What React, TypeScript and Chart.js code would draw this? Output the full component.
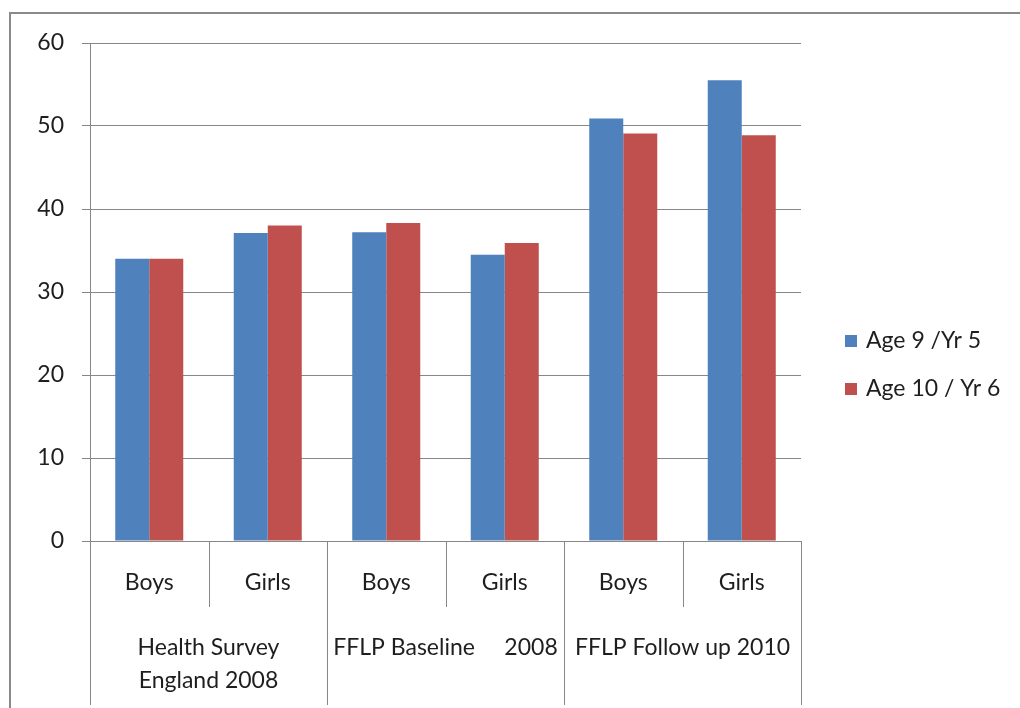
import React, { useEffect, useRef } from "react";
import { Chart, registerables } from "chart.js";

Chart.register(...registerables);

const categories = ["Boys", "Girls", "Boys", "Girls", "Boys", "Girls"];
const groupLabels = [["Health Survey", "England 2008"], ["FFLP Baseline     2008"], ["FFLP Follow up 2010"]];
const seriesNames = ["Age 9 /Yr 5", "Age 10 / Yr 6"];
const age9 = [34, 37.1, 37.2, 34.5, 50.9, 55.5];
const age10 = [34, 38, 38.3, 35.9, 49.1, 48.9];
const yMin = 0;
const yMax = 60;
const yStep = 10;

const FONT = "Lato, 'Open Sans', sans-serif";
const FS = 23;
const TEXT = "#1e1e1e";
const GRID = "#878787";

const extrasPlugin = {
  id: "extras",
  afterDraw(chart: any) {
    const ctx = chart.ctx;
    const x = chart.scales.x;
    const area = chart.chartArea;
    const n = categories.length;
    ctx.save();
    ctx.strokeStyle = GRID;
    ctx.lineWidth = 1;
    for (let i = 0; i <= n; i++) {
      const px = Math.round(x.getPixelForValue(i - 0.5)) + 0.5;
      const bottom = i % 2 === 0 ? 705 : area.bottom + 66;
      ctx.beginPath();
      ctx.moveTo(px, area.bottom);
      ctx.lineTo(px, bottom);
      ctx.stroke();
    }
    ctx.fillStyle = TEXT;
    ctx.font = `${FS}px ${FONT}`;
    ctx.textAlign = "center";
    ctx.textBaseline = "middle";
    groupLabels.forEach((lines, g) => {
      const cx = (x.getPixelForValue(2 * g) + x.getPixelForValue(2 * g + 1)) / 2;
      lines.forEach((t, k) => ctx.fillText(t, cx, 648 + k * 33));
    });
    // legend
    ctx.textAlign = "left";
    chart.data.datasets.forEach((ds: any, i: number) => {
      const cy = 341 + i * 48;
      ctx.fillStyle = ds.backgroundColor;
      ctx.fillRect(845, cy - 6, 12, 12);
      ctx.fillStyle = TEXT;
      ctx.fillText(ds.label, 866, cy);
    });
    ctx.restore();
  },
};

export default function App() {
  const ref = useRef<HTMLCanvasElement>(null);
  useEffect(() => {
    if (!ref.current) return;
    const chart = new Chart(ref.current, {
      type: "bar",
      data: {
        labels: categories,
        datasets: [
          { label: seriesNames[0], data: age9, backgroundColor: "#4F81BD" },
          { label: seriesNames[1], data: age10, backgroundColor: "#C0504D" },
        ],
      },
      options: {
        responsive: false,
        animation: false,
        layout: { padding: { left: 0, right: 219, top: 43, bottom: 0 } },
        datasets: { bar: { barPercentage: 1, categoryPercentage: 0.574 } },
        plugins: { legend: { display: false }, tooltip: { enabled: false } },
        scales: {
          x: {
            grid: { display: false },
            border: { display: true, color: GRID },
            ticks: { color: TEXT, font: { family: FONT, size: FS }, padding: 20, maxRotation: 0 },
            afterFit: (s: any) => { s.height = 167; },
          },
          y: {
            min: yMin,
            max: yMax,
            grid: { color: GRID, tickLength: 8 },
            border: { display: true, color: GRID },
            ticks: { stepSize: yStep, color: TEXT, font: { family: FONT, size: FS }, padding: 18 },
            afterFit: (s: any) => { s.width = 90; },
          },
        },
      },
      plugins: [extrasPlugin],
    });
    return () => chart.destroy();
  }, []);
  return (
    <div style={{ position: "absolute", left: 0, top: 0, width: 1020, height: 708, overflow: "hidden", background: "#fff" }}>
      <div style={{ position: "absolute", left: 9, top: 12, width: 1100, height: 800, borderTop: "2px solid #8a8a8a", borderLeft: "2px solid #8a8a8a" }} />
      <canvas ref={ref} width={1020} height={708} style={{ position: "absolute", left: 0, top: 0 }} />
    </div>
  );
}
